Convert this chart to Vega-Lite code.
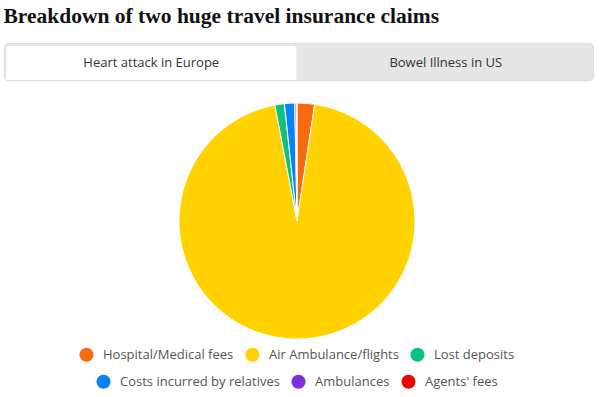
{
  "$schema": "https://vega.github.io/schema/vega-lite/v6.json",
  "background": "#ffffff",
  "padding": {"left": 3, "top": 6, "right": 5, "bottom": 5},
  "title": {
    "text": "Breakdown of two huge travel insurance claims",
    "anchor": "start",
    "font": "Liberation Serif",
    "fontSize": 21.5,
    "fontWeight": "bold",
    "color": "#111111",
    "offset": 15
  },
  "datasets": {
    "tabs": [
      {"tab": "Heart attack in Europe", "active": "yes"},
      {"tab": "Bowel Illness in US", "active": "no"}
    ],
    "claims": [
      {"category": "Hospital/Medical fees", "share": 2.4, "ord": 1},
      {"category": "Air Ambulance/flights", "share": 94.6, "ord": 2},
      {"category": "Lost deposits", "share": 1.3, "ord": 3},
      {"category": "Costs incurred by relatives", "share": 1.4, "ord": 4},
      {"category": "Ambulances", "share": 0.2, "ord": 5},
      {"category": "Agents' fees", "share": 0.1, "ord": 6}
    ]
  },
  "spacing": 20,
  "vconcat": [
    {
      "width": 589,
      "height": 37,
      "data": {"name": "tabs"},
      "view": {"fill": "#e6e6e6", "stroke": "#dcdcdc", "cornerRadius": 4},
      "layer": [
        {
          "mark": {"type": "bar", "yOffset": 3, "width": {"band": 0.985}, "cornerRadiusTopLeft": 3, "cornerRadiusTopRight": 3},
          "encoding": {
            "x": {"field": "tab", "type": "nominal", "sort": null, "axis": null, "scale": {"paddingInner": 0, "paddingOuter": 0}},
            "color": {"field": "active", "type": "nominal", "legend": null, "scale": {"domain": ["yes", "no"], "range": ["#ffffff", "#e6e6e6"]}}
          }
        },
        {
          "mark": {"type": "text", "font": "Open Sans", "fontSize": 13, "color": "#333333", "yOffset": 1},
          "encoding": {
            "x": {"field": "tab", "type": "nominal", "sort": null, "axis": null},
            "text": {"field": "tab"}
          }
        }
      ]
    },
    {
      "width": 586,
      "height": 236,
      "data": {"name": "claims"},
      "view": {"stroke": null},
      "layer": [
        {
          "mark": {"type": "arc", "stroke": "#ffffff", "strokeWidth": 1},
          "encoding": {
            "theta": {"field": "share", "type": "quantitative", "stack": true},
            "order": {"field": "ord", "type": "quantitative"},
            "color": {
              "field": "category",
              "type": "nominal",
              "scale": {
                "domain": ["Hospital/Medical fees", "Air Ambulance/flights", "Lost deposits", "Costs incurred by relatives", "Ambulances", "Agents' fees"],
                "range": ["#f76a0f", "#ffd200", "#10c07d", "#0a80fc", "#7e2ee0", "#f00000"]
              },
              "legend": {
                "values": ["Hospital/Medical fees", "Air Ambulance/flights", "Lost deposits"],
                "orient": "bottom",
                "direction": "horizontal",
                "title": null
              }
            }
          }
        },
        {
          "mark": {"type": "arc", "stroke": "#ffffff", "strokeWidth": 1},
          "encoding": {
            "theta": {"field": "share", "type": "quantitative", "stack": true},
            "order": {"field": "ord", "type": "quantitative"},
            "color": {
              "field": "category",
              "type": "nominal",
              "scale": {
                "domain": ["Hospital/Medical fees", "Air Ambulance/flights", "Lost deposits", "Costs incurred by relatives", "Ambulances", "Agents' fees"],
                "range": ["#f76a0f", "#ffd200", "#10c07d", "#0a80fc", "#7e2ee0", "#f00000"]
              },
              "legend": {
                "values": ["Costs incurred by relatives", "Ambulances", "Agents' fees"],
                "orient": "bottom",
                "direction": "horizontal",
                "title": null
              }
            }
          }
        }
      ],
      "resolve": {"scale": {"color": "independent"}}
    }
  ],
  "config": {
    "view": {"stroke": null},
    "legend": {
      "symbolType": "circle",
      "symbolSize": 200,
      "symbolStrokeWidth": 0,
      "symbolOpacity": 1,
      "labelFont": "Open Sans",
      "labelFontSize": 13,
      "labelColor": "#555555",
      "labelOffset": 9,
      "columnPadding": 11,
      "offset": 8,
      "padding": 0,
      "layout": {
        "bottom": {"direction": "vertical", "anchor": "middle", "center": true, "margin": 12}
      }
    }
  }
}
